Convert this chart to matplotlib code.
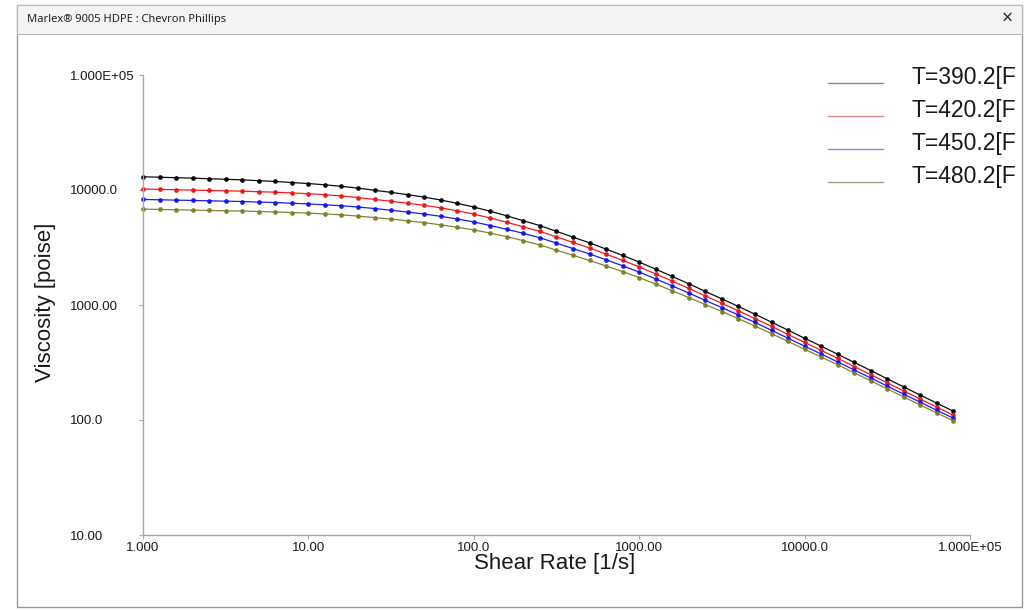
import matplotlib
matplotlib.use("Agg")
import matplotlib.pyplot as plt
from matplotlib.patches import Rectangle
from matplotlib.lines import Line2D

plt.rcParams['font.family'] = ['Liberation Sans', 'DejaVu Sans']

# ---- data ----
shear_rate = [1.0, 1.259, 1.585, 1.995, 2.512, 3.162, 3.981, 5.012, 6.310, 7.943,
              10.0, 12.59, 15.85, 19.95, 25.12, 31.62, 39.81, 50.12, 63.10, 79.43,
              100.0, 125.9, 158.5, 199.5, 251.2, 316.2, 398.1, 501.2, 631.0, 794.3,
              1000.0, 1259.0, 1585.0, 1995.0, 2512.0, 3162.0, 3981.0, 5012.0, 6310.0, 7943.0,
              10000.0, 12589.0, 15849.0, 19953.0, 25119.0, 31623.0, 39811.0, 50119.0, 63096.0, 79433.0]

visc_390 = [13030, 12910, 12790, 12680, 12530, 12390, 12250, 12050, 11860, 11610,
            11380, 11090, 10760, 10380, 9950, 9530, 9100, 8670, 8180, 7660,
            7110, 6530, 5960, 5400, 4900, 4370, 3890, 3470, 3060, 2700,
            2360, 2050, 1770, 1530, 1312, 1130, 970.5, 831.8, 709.6, 603.9,
            514.0, 438.5, 373.3, 317.0, 269.2, 228.0, 193.6, 164.4, 140.0, 119.1]

visc_420 = [10190, 10120, 10050, 9977, 9908, 9840, 9772, 9661, 9572, 9419,
            9290, 9099, 8872, 8590, 8279, 7980, 7674, 7362, 6998, 6592,
            6166, 5702, 5236, 4775, 4365, 3908, 3499, 3126, 2767, 2443,
            2143, 1862, 1614, 1393, 1199, 1033, 889.2, 762.1, 651.6, 554.6,
            472.1, 403.6, 343.6, 291.7, 247.7, 210.4, 178.6, 151.7, 129.1, 109.9]

visc_450 = [8279, 8222, 8166, 8110, 8054, 7998, 7943, 7852, 7780, 7674,
            7568, 7430, 7295, 7112, 6902, 6668, 6427, 6180, 5902, 5598,
            5272, 4909, 4550, 4198, 3846, 3451, 3097, 2780, 2472, 2193,
            1932, 1687, 1466, 1271, 1096, 948.4, 818.4, 704.7, 602.6, 514.0,
            438.5, 375.0, 319.9, 272.3, 231.7, 196.8, 167.5, 142.6, 121.3, 103.5]

visc_480 = [6823, 6776, 6730, 6683, 6637, 6592, 6561, 6501, 6442, 6368,
            6295, 6194, 6081, 5929, 5754, 5585, 5395, 5200, 4977, 4742,
            4498, 4217, 3926, 3622, 3327, 2999, 2704, 2438, 2183, 1950,
            1730, 1521, 1330, 1161, 1009, 877.0, 760.3, 656.2, 563.6, 481.9,
            412.1, 353.2, 302.0, 257.0, 219.3, 186.2, 158.5, 134.9, 115.1, 98.2]

series_labels = ["T=390.2[F", "T=420.2[F", "T=450.2[F", "T=480.2[F"]
series_values = [visc_390, visc_420, visc_450, visc_480]
series_colors = ["#000000", "#ee1111", "#1010ee", "#7d7d22"]
legend_colors = ["#8a8a8a", "#e88888", "#8888e8", "#a0a088"]

x_tick_values = [1, 10, 100, 1000, 10000, 100000]
x_tick_labels = ["1.000", "10.00", "100.0", "1000.00", "10000.0", "1.000E+05"]
y_tick_values = [10, 100, 1000, 10000, 100000]
y_tick_labels = ["10.00", "100.0", "1000.00", "10000.0", "1.000E+05"]

title_text = "Marlex\u00ae 9005 HDPE : Chevron Phillips"

# ---- figure ----
W, H = 1027, 611
fig = plt.figure(figsize=(W / 100, H / 100), dpi=100)
fig.patch.set_facecolor("white")


def fx(px):
    return px / W


def fy(py):
    return 1 - py / H


# window frame (behind everything)
fig.patches.append(Rectangle((fx(17), fy(607)), fx(1022) - fx(17), fy(5) - fy(607),
                             transform=fig.transFigure, facecolor="white",
                             edgecolor="#9a9a9a", lw=1.0, zorder=-5))
# title bar
fig.patches.append(Rectangle((fx(17), fy(34)), fx(1022) - fx(17), fy(5) - fy(34),
                             transform=fig.transFigure, facecolor="#f4f4f4",
                             edgecolor="#b8b8b8", lw=0.8, zorder=-4))
fig.text(fx(27), fy(19.5), title_text, fontsize=8, family=["Noto Sans", "DejaVu Sans"],
         ha="left", va="center", color="#202020")
fig.text(fx(1007), fy(19), "\u00d7", fontsize=14, family=["Noto Sans", "DejaVu Sans"],
         ha="center", va="center", color="#303030")

# axes
ax = fig.add_axes([fx(143), fy(535), fx(970) - fx(143), fy(75) - fy(535)])
ax.set_zorder(2)
ax.set_facecolor("none")
for vals, col in zip(series_values, series_colors):
    ax.plot(shear_rate, vals, color=col, lw=0.9, marker="o", markersize=3.4,
            markeredgewidth=0, alpha=0.95, clip_on=False)

ax.set_xscale("log")
ax.set_yscale("log")
ax.set_xlim(1, 1e5)
ax.set_ylim(10, 1e5)
ax.set_xticks(x_tick_values)
ax.set_xticklabels(x_tick_labels)
ax.set_yticks(y_tick_values)
ax.set_yticklabels(y_tick_labels)
ax.minorticks_off()

for s in ["top", "right"]:
    ax.spines[s].set_visible(False)
for s in ["left", "bottom"]:
    ax.spines[s].set_color("#a8a8a8")
    ax.spines[s].set_linewidth(1.0)

ax.tick_params(axis="x", direction="out", length=3, width=0.8, colors="#a8a8a8",
               labelcolor="#1a1a1a", labelsize=9.5, pad=2)
ax.tick_params(axis="y", direction="out", length=3, width=0.8, colors="#a8a8a8",
               labelcolor="#1a1a1a", labelsize=9.5, pad=(143 - 70) * 0.72 - 3)
for lbl in ax.get_yticklabels():
    lbl.set_horizontalalignment("left")

# axis titles
fig.text(fx(555), fy(563), "Shear Rate [1/s]", fontsize=16, ha="center", va="center",
         color="#1a1a1a")
fig.text(fx(46), fy(302), "Viscosity [poise]", fontsize=16, ha="center", va="center",
         rotation=90, color="#1a1a1a")

# legend
for i, (lab, col) in enumerate(zip(series_labels, legend_colors)):
    yl = 83 + 33 * i
    fig.add_artist(Line2D([fx(828), fx(883)], [fy(yl), fy(yl)], color=col, lw=1.0,
                          transform=fig.transFigure))
    fig.text(fx(912), fy(yl + 1), lab, fontsize=16.5, ha="left", va="baseline",
             color="#1a1a1a")

fig.savefig("out.png", dpi=100)
